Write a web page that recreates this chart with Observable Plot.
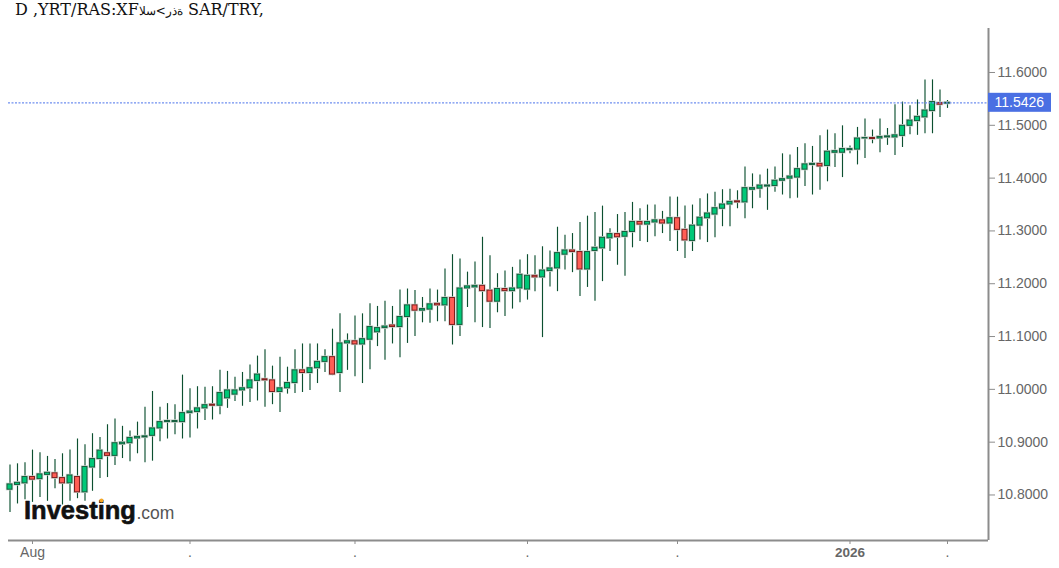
<!DOCTYPE html>
<html><head><meta charset="utf-8">
<style>
html,body{margin:0;padding:0;background:#fff;overflow:hidden}
#title{height:22px;padding-left:15px;font:16px/20px "DejaVu Serif",serif;color:#111;white-space:pre;unicode-bidi:bidi-override;direction:ltr}
#title span{font-size:12px}
svg{display:block}
</style>
<script src="https://cdn.jsdelivr.net/npm/d3@7"></script>
<script src="https://cdn.jsdelivr.net/npm/@observablehq/plot@0.6"></script>
</head><body>
<div id="title"></div>
<div id="chart"></div>
<script>
const titleLatinA = "D ,YRT/RAS:XF";
const titleArabic = "\u0627\u0644\u0633\u003C\u0631\u0630\u0629";
const titleLatinB = " SAR/TRY,";
const lastPrice = 11.5426;
const yTicks = [10.8,10.9,11.0,11.1,11.2,11.3,11.4,11.5,11.6];
const xTicks = [3,24,46,69,89,125];
const xTickLabels = ["Aug",".",".",".",".","."];
const yearTick = [112];
const yearLabel = "2026";
const opens = [10.810,10.819,10.822,10.834,10.830,10.838,10.841,10.832,10.822,10.834,10.805,10.852,10.868,10.879,10.874,10.896,10.898,10.907,10.909,10.912,10.926,10.938,10.938,10.938,10.955,10.957,10.964,10.971,
10.969,10.983,10.990,10.998,11.002,11.016,11.019,11.017,10.995,11.002,11.012,11.036,11.031,11.040,11.052,11.061,11.031,11.087,11.091,11.085,11.094,11.108,11.116,11.121,11.118,11.137,11.159,11.149,11.151,11.162,
11.159,11.173,11.122,11.191,11.193,11.196,11.187,11.166,11.190,11.186,11.191,11.189,11.215,11.212,11.224,11.229,11.255,11.263,11.260,11.227,11.262,11.267,11.286,11.294,11.289,11.298,11.317,11.312,11.316,11.320,11.314,11.324,11.302,
11.281,11.310,11.324,11.331,11.342,11.350,11.356,11.354,11.378,11.380,11.384,11.385,11.395,11.399,11.401,11.416,11.425,11.427,11.423,11.448,11.448,11.453,11.454,11.475,11.476,11.475,11.477,
11.477,11.480,11.499,11.508,11.515,11.527,11.542,11.541];
const closes = [10.820,10.823,10.834,10.829,10.839,10.842,10.832,10.822,10.837,10.805,10.853,10.868,10.884,10.874,10.898,10.899,10.908,10.910,10.911,10.926,10.938,10.940,10.940,10.955,10.958,10.964,10.970,10.969,
10.993,10.998,10.998,11.002,11.017,11.028,11.017,10.995,11.002,11.012,11.036,11.031,11.040,11.052,11.061,11.028,11.087,11.091,11.085,11.095,11.118,11.116,11.119,11.118,11.137,11.159,11.149,11.152,11.161,11.159,
11.173,11.122,11.191,11.195,11.196,11.186,11.166,11.190,11.186,11.191,11.217,11.215,11.212,11.225,11.229,11.258,11.263,11.260,11.227,11.260,11.268,11.287,11.294,11.288,11.298,11.317,11.312,11.317,11.320,11.314,11.324,11.302,11.282,
11.310,11.325,11.333,11.343,11.350,11.355,11.354,11.381,11.381,11.386,11.386,11.395,11.398,11.403,11.417,11.426,11.427,11.422,11.450,11.451,11.455,11.455,11.475,11.476,11.474,11.478,11.479,
11.481,11.499,11.509,11.516,11.528,11.544,11.539,11.5426];
const highs = [10.857,10.859,10.861,10.885,10.880,10.873,10.867,10.878,10.885,10.906,10.895,10.916,10.909,10.933,10.944,10.930,10.921,10.938,10.966,10.996,10.966,10.973,10.971,11.027,11.001,11.005,11.004,11.005,
11.036,11.034,11.023,11.032,11.046,11.063,11.075,11.044,11.061,11.042,11.075,11.086,11.086,11.086,11.075,11.114,11.143,11.105,11.139,11.143,11.162,11.157,11.167,11.157,11.188,11.190,11.187,11.174,11.190,11.188,
11.228,11.255,11.247,11.222,11.241,11.288,11.253,11.219,11.224,11.231,11.245,11.255,11.253,11.270,11.262,11.307,11.292,11.295,11.316,11.328,11.335,11.347,11.304,11.331,11.335,11.354,11.342,11.349,11.349,11.337,11.364,11.364,11.347,
11.349,11.361,11.370,11.373,11.378,11.379,11.376,11.421,11.408,11.406,11.417,11.421,11.446,11.444,11.458,11.465,11.460,11.480,11.491,11.484,11.499,11.461,11.496,11.512,11.491,11.512,11.494,
11.539,11.544,11.537,11.548,11.586,11.586,11.567,11.547];
const lows = [10.767,10.783,10.791,10.786,10.795,10.788,10.812,10.781,10.788,10.793,10.788,10.807,10.831,10.833,10.856,10.869,10.863,10.878,10.861,10.864,10.901,10.906,10.914,10.906,10.908,10.925,10.941,10.942,
10.952,10.964,10.977,10.968,10.975,10.978,10.966,10.971,10.956,10.991,10.992,10.994,10.998,11.011,11.032,11.026,10.994,11.036,11.024,11.011,11.037,11.081,11.055,11.086,11.060,11.087,11.100,11.126,11.125,11.128,
11.128,11.084,11.100,11.155,11.126,11.117,11.115,11.145,11.138,11.152,11.164,11.169,11.185,11.098,11.194,11.185,11.226,11.221,11.176,11.193,11.167,11.204,11.261,11.235,11.214,11.268,11.280,11.278,11.289,11.295,11.280,11.261,11.248,
11.261,11.283,11.278,11.287,11.308,11.308,11.342,11.323,11.342,11.362,11.339,11.373,11.368,11.361,11.362,11.384,11.368,11.377,11.393,11.420,11.401,11.446,11.425,11.437,11.465,11.448,11.462,
11.443,11.458,11.482,11.481,11.484,11.484,11.515,11.532];

const data = opens.map((o,i)=>({i,o,c:closes[i],h:highs[i],l:lows[i],up:closes[i]>=o}));
const titleEl = document.getElementById("title");
titleEl.append(titleLatinA);
const arabicSpan = document.createElement("span");
arabicSpan.textContent = titleArabic;
titleEl.append(arabicSpan, titleLatinB);

const axisGrey = "#8c8c8c", labelGrey = "#666";
const xMax = 130.467, yMin = 10.7138, yMax = 11.6833;
const chart = Plot.plot({
  width:1059, height:546,
  marginTop:6, marginBottom:28, marginLeft:8, marginRight:71,
  style:{background:"#fff",fontFamily:"'Liberation Sans',Arial,sans-serif"},
  x:{domain:[-0.2,xMax],axis:null},
  y:{domain:[yMin,yMax],axis:null},
  marks:[
    Plot.ruleX(data,{x:"i",y1:"l",y2:"h",stroke:"#0c5030",strokeWidth:1.15}),
    Plot.rect(data,{x1:d=>d.i-0.33,x2:d=>d.i+0.33,y1:"o",y2:"c",fill:"none",stroke:"#ccd4ce",strokeWidth:2.4}),
    Plot.rect(data,{x1:d=>d.i-0.33,x2:d=>d.i+0.33,y1:"o",y2:"c",
      fill:d=>d.up?"#00c878":"#ff5e55",
      stroke:d=>d.up?"#155c3c":"#7c1c1c",strokeWidth:1}),
    Plot.ruleY([lastPrice],{stroke:"#6f8ff0",strokeWidth:1.2,strokeDasharray:"2 1.5"}),
    Plot.ruleX([xMax],{stroke:axisGrey,strokeWidth:2}),
    Plot.ruleY([yMin],{stroke:axisGrey,strokeWidth:2}),
    Plot.axisY({anchor:"right",ticks:yTicks,tickFormat:d3.format(".4f"),tickSize:6,tickPadding:3,
      stroke:axisGrey,fill:labelGrey,fontSize:14,label:null}),
    Plot.axisX({anchor:"bottom",ticks:xTicks,tickFormat:d=>xTickLabels[xTicks.indexOf(d)],tickSize:4,tickPadding:3,
      stroke:axisGrey,fill:labelGrey,fontSize:14,label:null}),
    Plot.axisX({anchor:"bottom",ticks:yearTick,tickFormat:()=>yearLabel,tickSize:4,tickPadding:3,
      stroke:axisGrey,fill:labelGrey,fontSize:13.5,fontWeight:"bold",label:null}),
    Plot.rect([lastPrice],{x1:xMax,x2:xMax+8.4,y1:d=>d,y2:d=>d,insetTop:-9.5,insetBottom:-9.5,fill:"#4a6fe3"}),
    Plot.text([lastPrice],{x:xMax,y:d=>d,text:d=>d3.format(".4f")(d),dx:6,textAnchor:"start",fill:"#fff",fontSize:14}),
    Plot.text(["Investing"],{frameAnchor:"bottom-left",dx:15.5,dy:-22,text:d=>d,fontSize:25.5,fontWeight:"bold",fill:"#111",letterSpacing:"-0.9px",stroke:"#111",strokeWidth:0.6,textAnchor:"start"}),
    Plot.text([".com"],{frameAnchor:"bottom-left",dx:128,dy:-22,text:d=>d,fontSize:17.5,fill:"#555",textAnchor:"start"}),
    Plot.dot(["logo"],{frameAnchor:"bottom-left",dx:93,dy:-40,r:2,fill:"#f5a623"})
  ]
});
document.getElementById("chart").appendChild(chart);
</script>
</body></html>
